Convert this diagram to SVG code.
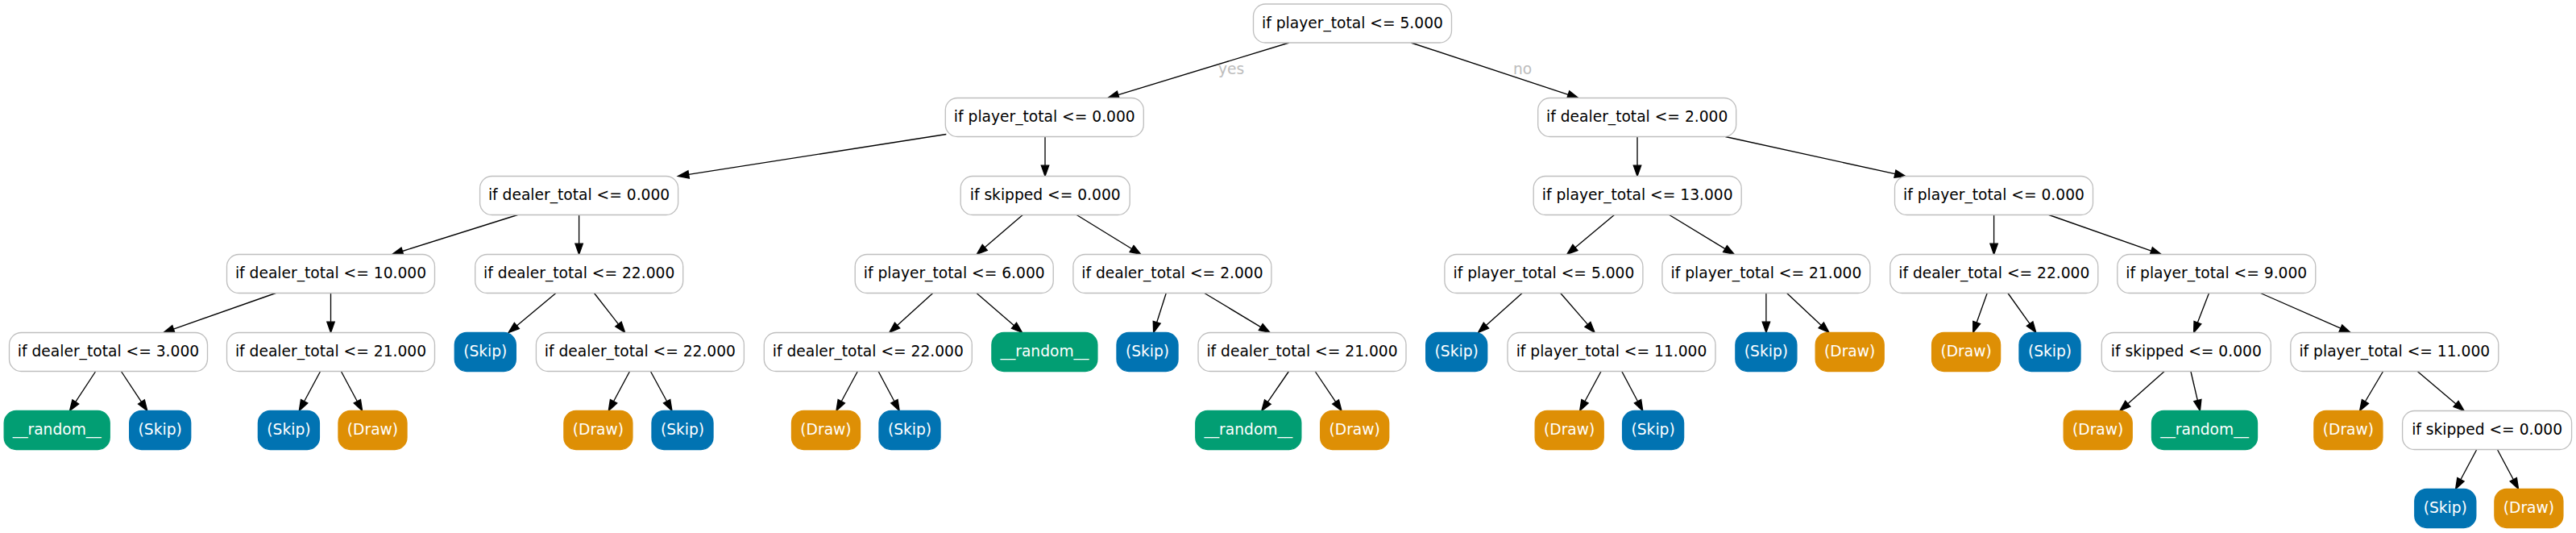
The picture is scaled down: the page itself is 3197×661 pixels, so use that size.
<svg xmlns="http://www.w3.org/2000/svg" width="3197" height="661" viewBox="0 0 3197 661">
<style>
.c{fill:#fff;stroke:#bebebe;stroke-width:1.33}
.sk{fill:#0173b2;stroke:#0173b2;stroke-width:1.33}
.dr{fill:#de8f05;stroke:#de8f05;stroke-width:1.33}
.rn{fill:#029e73;stroke:#029e73;stroke-width:1.33}
text{font-family:"DejaVu Sans","Liberation Sans",sans-serif;font-size:18.67px;text-anchor:middle}
.t{fill:#000}
.w{fill:#fff}
.lbl{fill:#bdbdbd}
#edges line{stroke:#000;stroke-width:1.33;fill:none;marker-end:url(#ah)}
</style>
<defs>
<marker id="ah" markerUnits="userSpaceOnUse" viewBox="0 0 13.33 9.34" markerWidth="13.33" markerHeight="9.34" refX="0" refY="4.67" orient="auto" overflow="visible">
<path d="M0,0 L13.33,4.67 L0,9.34 Z" fill="#000" stroke="#000" stroke-width="1.33"/>
</marker>
</defs>
<rect width="3197" height="661" fill="#fff"/>
<g id="edges">
<line x1="1599.8" y1="53" x2="1387.75" y2="117.61"/>
<line x1="1751.3" y1="53" x2="1946.24" y2="117.32"/>
<line x1="1174.3" y1="166.5" x2="854.67" y2="216.44"/>
<line x1="1297" y1="169.5" x2="1297" y2="205.17"/>
<line x1="2032" y1="169.5" x2="2032" y2="205.17"/>
<line x1="2141.25" y1="169.5" x2="2351.93" y2="215.65"/>
<line x1="642.38" y1="266.5" x2="499.44" y2="311.5"/>
<line x1="718.6" y1="266.5" x2="718.6" y2="302.17"/>
<line x1="1269.24" y1="266.5" x2="1222.28" y2="306.82"/>
<line x1="1336.21" y1="266.5" x2="1404.53" y2="308.51"/>
<line x1="2003.43" y1="266.5" x2="1954.91" y2="306.96"/>
<line x1="2071.71" y1="266.5" x2="2141" y2="308.58"/>
<line x1="2474.6" y1="266.5" x2="2474.6" y2="302.17"/>
<line x1="2542.86" y1="266.5" x2="2669.86" y2="311.08"/>
<line x1="342.22" y1="363.5" x2="215.36" y2="408.08"/>
<line x1="410.5" y1="363.5" x2="410.5" y2="399.17"/>
<line x1="689.9" y1="363.5" x2="641.34" y2="403.96"/>
<line x1="737.43" y1="363.5" x2="767.47" y2="401.99"/>
<line x1="1157.75" y1="363.5" x2="1113.62" y2="403.54"/>
<line x1="1211.96" y1="363.5" x2="1258.56" y2="403.78"/>
<line x1="1447.26" y1="363.5" x2="1435.69" y2="399.8"/>
<line x1="1494.76" y1="363.5" x2="1564.72" y2="405.62"/>
<line x1="1889.13" y1="363.5" x2="1844.4" y2="403.6"/>
<line x1="1936.71" y1="363.5" x2="1970.46" y2="402.43"/>
<line x1="2191.9" y1="363.5" x2="2191.9" y2="399.17"/>
<line x1="2217.58" y1="363.5" x2="2260.28" y2="403.4"/>
<line x1="2466.22" y1="363.5" x2="2453.17" y2="399.95"/>
<line x1="2491.92" y1="363.5" x2="2519.14" y2="401.65"/>
<line x1="2741.52" y1="363.5" x2="2727.39" y2="400.07"/>
<line x1="2805.48" y1="363.5" x2="2904.91" y2="407.14"/>
<line x1="118.72" y1="460.5" x2="93.81" y2="498.36"/>
<line x1="150.38" y1="460.5" x2="175.46" y2="498.38"/>
<line x1="397.61" y1="460.5" x2="377.6" y2="497.76"/>
<line x1="423.36" y1="460.5" x2="443.34" y2="497.75"/>
<line x1="781.54" y1="460.5" x2="761.56" y2="497.75"/>
<line x1="807.41" y1="460.5" x2="827.64" y2="497.78"/>
<line x1="1064.36" y1="460.5" x2="1044.26" y2="497.75"/>
<line x1="1090.09" y1="460.5" x2="1109.93" y2="497.76"/>
<line x1="1599.5" y1="460.5" x2="1573.35" y2="498.52"/>
<line x1="1632.13" y1="460.5" x2="1657.63" y2="498.44"/>
<line x1="1987.06" y1="460.5" x2="1966.96" y2="497.75"/>
<line x1="2012.77" y1="460.5" x2="2032.56" y2="497.76"/>
<line x1="2686.18" y1="460.5" x2="2640.8" y2="500.66"/>
<line x1="2718.92" y1="460.5" x2="2727.34" y2="496.52"/>
<line x1="2957.6" y1="460.5" x2="2935.39" y2="498.03"/>
<line x1="3000.2" y1="460.5" x2="3048.02" y2="500.9"/>
<line x1="3073.78" y1="557.5" x2="3053.9" y2="594.74"/>
<line x1="3099.42" y1="557.5" x2="3119.3" y2="594.74"/>
</g>
<g id="edge-labels">
<text class="lbl" x="1528" y="92">yes</text>
<text class="lbl" x="1889.5" y="92">no</text>
</g>
<g id="n0"><rect class="c" x="1555.5" y="5" width="246" height="48" rx="15"/><text class="t" x="1678.5" y="34.6">if player_total &lt;= 5.000</text></g>
<g id="n1"><rect class="c" x="1173.3" y="121.5" width="246" height="48" rx="15"/><text class="t" x="1296.3" y="151.1">if player_total &lt;= 0.000</text></g>
<g id="n2"><rect class="c" x="1908.7" y="121.5" width="246" height="48" rx="15"/><text class="t" x="2031.7" y="151.1">if dealer_total &lt;= 2.000</text></g>
<g id="n3"><rect class="c" x="595.6" y="218.5" width="246" height="48" rx="15"/><text class="t" x="718.6" y="248.1">if dealer_total &lt;= 0.000</text></g>
<g id="n4"><rect class="c" x="1192.2" y="218.5" width="210" height="48" rx="15"/><text class="t" x="1297.2" y="248.1">if skipped &lt;= 0.000</text></g>
<g id="n5"><rect class="c" x="1903.2" y="218.5" width="258" height="48" rx="15"/><text class="t" x="2032.2" y="248.1">if player_total &lt;= 13.000</text></g>
<g id="n6"><rect class="c" x="2351.5" y="218.5" width="246" height="48" rx="15"/><text class="t" x="2474.5" y="248.1">if player_total &lt;= 0.000</text></g>
<g id="n7"><rect class="c" x="281.5" y="315.5" width="258" height="48" rx="15"/><text class="t" x="410.5" y="345.1">if dealer_total &lt;= 10.000</text></g>
<g id="n8"><rect class="c" x="589.7" y="315.5" width="258" height="48" rx="15"/><text class="t" x="718.7" y="345.1">if dealer_total &lt;= 22.000</text></g>
<g id="n9"><rect class="c" x="1061.2" y="315.5" width="246" height="48" rx="15"/><text class="t" x="1184.2" y="345.1">if player_total &lt;= 6.000</text></g>
<g id="n10"><rect class="c" x="1331.9" y="315.5" width="246" height="48" rx="15"/><text class="t" x="1454.9" y="345.1">if dealer_total &lt;= 2.000</text></g>
<g id="n11"><rect class="c" x="1792.9" y="315.5" width="246" height="48" rx="15"/><text class="t" x="1915.9" y="345.1">if player_total &lt;= 5.000</text></g>
<g id="n12"><rect class="c" x="2062.9" y="315.5" width="258" height="48" rx="15"/><text class="t" x="2191.9" y="345.1">if player_total &lt;= 21.000</text></g>
<g id="n13"><rect class="c" x="2345.8" y="315.5" width="258" height="48" rx="15"/><text class="t" x="2474.8" y="345.1">if dealer_total &lt;= 22.000</text></g>
<g id="n14"><rect class="c" x="2627.8" y="315.5" width="246" height="48" rx="15"/><text class="t" x="2750.8" y="345.1">if player_total &lt;= 9.000</text></g>
<g id="n15"><rect class="c" x="11.5" y="412.5" width="246" height="48" rx="15"/><text class="t" x="134.5" y="442.1">if dealer_total &lt;= 3.000</text></g>
<g id="n16"><rect class="c" x="281.5" y="412.5" width="258" height="48" rx="15"/><text class="t" x="410.5" y="442.1">if dealer_total &lt;= 21.000</text></g>
<g id="n17"><rect class="sk" x="564.3" y="412.5" width="76" height="48" rx="15"/><text class="w" x="602.3" y="442.1">(Skip)</text></g>
<g id="n18"><rect class="c" x="665.4" y="412.5" width="258" height="48" rx="15"/><text class="t" x="794.4" y="442.1">if dealer_total &lt;= 22.000</text></g>
<g id="n19"><rect class="c" x="948.3" y="412.5" width="258" height="48" rx="15"/><text class="t" x="1077.3" y="442.1">if dealer_total &lt;= 22.000</text></g>
<g id="n20"><rect class="rn" x="1230.9" y="412.5" width="131" height="48" rx="15"/><text class="w" x="1296.4" y="442.1">__random__</text></g>
<g id="n21"><rect class="sk" x="1386" y="412.5" width="76" height="48" rx="15"/><text class="w" x="1424" y="442.1">(Skip)</text></g>
<g id="n22"><rect class="c" x="1487" y="412.5" width="258" height="48" rx="15"/><text class="t" x="1616" y="442.1">if dealer_total &lt;= 21.000</text></g>
<g id="n23"><rect class="sk" x="1769.7" y="412.5" width="76" height="48" rx="15"/><text class="w" x="1807.7" y="442.1">(Skip)</text></g>
<g id="n24"><rect class="c" x="1871" y="412.5" width="258" height="48" rx="15"/><text class="t" x="2000" y="442.1">if player_total &lt;= 11.000</text></g>
<g id="n25"><rect class="sk" x="2153.9" y="412.5" width="76" height="48" rx="15"/><text class="w" x="2191.9" y="442.1">(Skip)</text></g>
<g id="n26"><rect class="dr" x="2253.2" y="412.5" width="85" height="48" rx="15"/><text class="w" x="2295.7" y="442.1">(Draw)</text></g>
<g id="n27"><rect class="dr" x="2397.6" y="412.5" width="85" height="48" rx="15"/><text class="w" x="2440.1" y="442.1">(Draw)</text></g>
<g id="n28"><rect class="sk" x="2506" y="412.5" width="76" height="48" rx="15"/><text class="w" x="2544" y="442.1">(Skip)</text></g>
<g id="n29"><rect class="c" x="2608.3" y="412.5" width="210" height="48" rx="15"/><text class="t" x="2713.3" y="442.1">if skipped &lt;= 0.000</text></g>
<g id="n30"><rect class="c" x="2842.8" y="412.5" width="258" height="48" rx="15"/><text class="t" x="2971.8" y="442.1">if player_total &lt;= 11.000</text></g>
<g id="n31"><rect class="rn" x="5.2" y="509.5" width="131" height="48" rx="15"/><text class="w" x="70.7" y="539.1">__random__</text></g>
<g id="n32"><rect class="sk" x="160.7" y="509.5" width="76" height="48" rx="15"/><text class="w" x="198.7" y="539.1">(Skip)</text></g>
<g id="n33"><rect class="sk" x="320.4" y="509.5" width="76" height="48" rx="15"/><text class="w" x="358.4" y="539.1">(Skip)</text></g>
<g id="n34"><rect class="dr" x="420" y="509.5" width="85" height="48" rx="15"/><text class="w" x="462.5" y="539.1">(Draw)</text></g>
<g id="n35"><rect class="dr" x="699.9" y="509.5" width="85" height="48" rx="15"/><text class="w" x="742.4" y="539.1">(Draw)</text></g>
<g id="n36"><rect class="sk" x="809" y="509.5" width="76" height="48" rx="15"/><text class="w" x="847" y="539.1">(Skip)</text></g>
<g id="n37"><rect class="dr" x="982.5" y="509.5" width="85" height="48" rx="15"/><text class="w" x="1025" y="539.1">(Draw)</text></g>
<g id="n38"><rect class="sk" x="1091" y="509.5" width="76" height="48" rx="15"/><text class="w" x="1129" y="539.1">(Skip)</text></g>
<g id="n39"><rect class="rn" x="1483.8" y="509.5" width="131" height="48" rx="15"/><text class="w" x="1549.3" y="539.1">__random__</text></g>
<g id="n40"><rect class="dr" x="1638.7" y="509.5" width="85" height="48" rx="15"/><text class="w" x="1681.2" y="539.1">(Draw)</text></g>
<g id="n41"><rect class="dr" x="1905.2" y="509.5" width="85" height="48" rx="15"/><text class="w" x="1947.7" y="539.1">(Draw)</text></g>
<g id="n42"><rect class="sk" x="2013.6" y="509.5" width="76" height="48" rx="15"/><text class="w" x="2051.6" y="539.1">(Skip)</text></g>
<g id="n43"><rect class="dr" x="2561.2" y="509.5" width="85" height="48" rx="15"/><text class="w" x="2603.7" y="539.1">(Draw)</text></g>
<g id="n44"><rect class="rn" x="2670.5" y="509.5" width="131" height="48" rx="15"/><text class="w" x="2736" y="539.1">__random__</text></g>
<g id="n45"><rect class="dr" x="2871.9" y="509.5" width="85" height="48" rx="15"/><text class="w" x="2914.4" y="539.1">(Draw)</text></g>
<g id="n46"><rect class="c" x="2981.6" y="509.5" width="210" height="48" rx="15"/><text class="t" x="3086.6" y="539.1">if skipped &lt;= 0.000</text></g>
<g id="n47"><rect class="sk" x="2996.8" y="606.5" width="76" height="48" rx="15"/><text class="w" x="3034.8" y="636.1">(Skip)</text></g>
<g id="n48"><rect class="dr" x="3095.9" y="606.5" width="85" height="48" rx="15"/><text class="w" x="3138.4" y="636.1">(Draw)</text></g>
</svg>
